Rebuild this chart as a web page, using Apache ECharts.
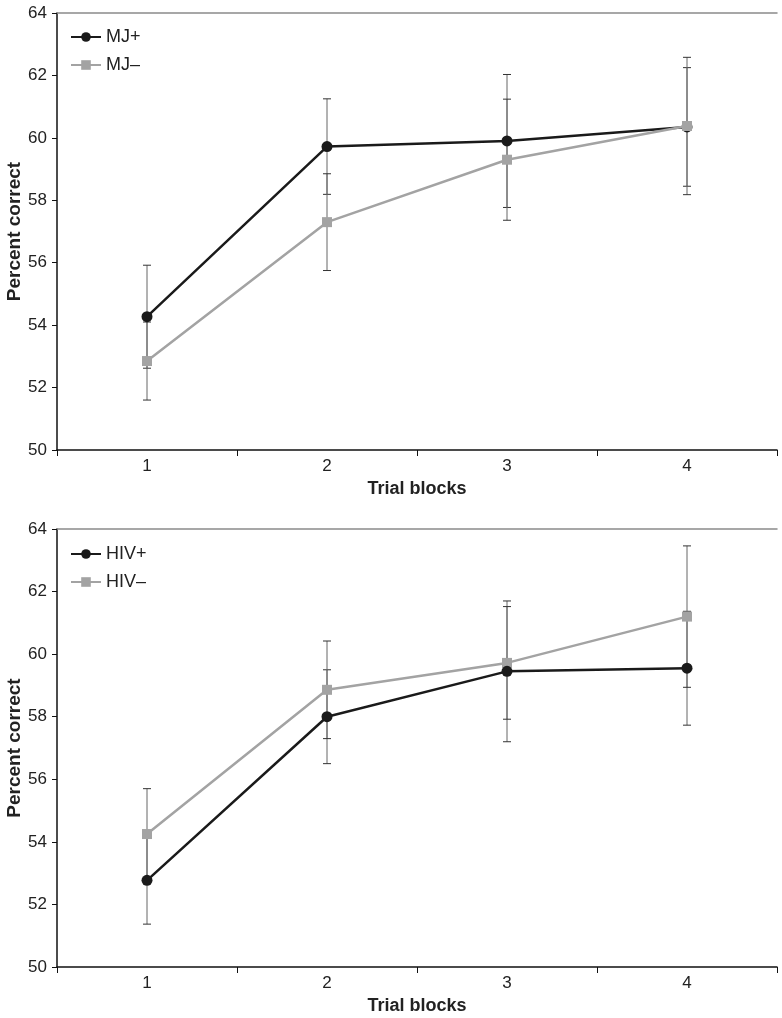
<!DOCTYPE html>
<html>
<head>
<meta charset="utf-8">
<script src="https://cdn.jsdelivr.net/npm/echarts@6/dist/echarts.min.js"></script>
<style>
html,body{margin:0;padding:0;background:#fff;}
#chart{width:782px;height:1018px;}
</style>
</head>
<body>
<div id="chart"></div>
<script>
const categories = ['1', '2', '3', '4'];
const yMin = 50, yMax = 64, yStep = 2;

const mjPlus = [54.27, 59.72, 59.9, 60.35];
const mjPlusErr = [1.65, 1.53, 2.13, 1.9];
const mjMinus = [52.85, 57.3, 59.3, 60.38];
const mjMinusErr = [1.25, 1.55, 1.94, 2.2];

const hivPlus = [52.77, 58.0, 59.45, 59.55];
const hivPlusErr = [1.4, 1.5, 2.25, 1.82];
const hivMinus = [54.25, 58.86, 59.72, 61.2];
const hivMinusErr = [1.45, 1.56, 1.8, 2.26];

const FONT = "'Liberation Sans', Arial, sans-serif";
const DARK = '#1a1a1a';
const GRAY = '#a3a3a3';

function errData(vals, errs) {
  return vals.map((v, i) => [i, v - errs[i], v + errs[i]]);
}

function errSeries(name, vals, errs, xi, yi) {
  return {
    type: 'custom',
    name: name + '_err',
    xAxisIndex: xi, yAxisIndex: yi,
    z: 1,
    silent: true,
    data: errData(vals, errs),
    renderItem: function (params, api) {
      const lo = api.coord([api.value(0), api.value(1)]);
      const hi = api.coord([api.value(0), api.value(2)]);
      const w = 4;
      const bar = { stroke: '#666', lineWidth: 1 };
      const cap = { stroke: '#333', lineWidth: 1 };
      return {
        type: 'group',
        children: [
          { type: 'line', shape: { x1: lo[0], y1: lo[1], x2: hi[0], y2: hi[1] }, style: bar },
          { type: 'line', shape: { x1: lo[0] - w, y1: lo[1], x2: lo[0] + w, y2: lo[1] }, style: cap },
          { type: 'line', shape: { x1: hi[0] - w, y1: hi[1], x2: hi[0] + w, y2: hi[1] }, style: cap }
        ]
      };
    }
  };
}

function lineSeries(name, vals, color, symbol, size, xi, yi, z) {
  return {
    type: 'line',
    name: name,
    xAxisIndex: xi, yAxisIndex: yi,
    data: vals,
    symbol: symbol,
    symbolSize: size,
    showSymbol: true,
    z: z,
    lineStyle: { color: color, width: 2.5 },
    itemStyle: { color: color, borderWidth: 0 },
    emphasis: { disabled: true },
    animation: false
  };
}

function xAxisBottom(gi) {
  return {
    type: 'category', gridIndex: gi, data: categories, position: 'bottom',
    boundaryGap: true,
    name: 'Trial blocks', nameLocation: 'middle', nameGap: 30,
    nameMoveOverlap: false,
    nameTextStyle: { fontFamily: FONT, fontSize: 18, fontWeight: 'bold', color: '#222' },
    axisLine: { show: true, lineStyle: { color: '#111', width: 1.5 } },
    axisTick: { show: true, alignWithLabel: false, length: 6, lineStyle: { color: '#111', width: 1 } },
    axisLabel: { fontFamily: FONT, fontSize: 17, color: '#222', margin: 8 },
    splitLine: { show: false }
  };
}
function xAxisTop(gi) {
  return {
    type: 'category', gridIndex: gi, data: categories, position: 'top',
    axisLine: { show: true, lineStyle: { color: '#8a8a8a', width: 1.5 } },
    axisTick: { show: false }, axisLabel: { show: false }, splitLine: { show: false }
  };
}
function yAxis(gi) {
  return {
    type: 'value', gridIndex: gi, min: yMin, max: yMax, interval: yStep,
    name: 'Percent correct', nameLocation: 'middle', nameGap: 33,
    nameMoveOverlap: false,
    nameTextStyle: { fontFamily: FONT, fontSize: 19, fontWeight: 'bold', color: '#222' },
    axisLine: { show: true, lineStyle: { color: '#111', width: 1.5 } },
    axisTick: { show: true, length: 5, lineStyle: { color: '#111', width: 1 } },
    axisLabel: { fontFamily: FONT, fontSize: 17, color: '#222', margin: 10 },
    splitLine: { show: false }
  };
}

function legend(items, top) {
  return {
    data: items.map(n => ({ name: n })),
    left: 65, top: top, orient: 'vertical', itemGap: 10,
    itemWidth: 30, itemHeight: 12,
    textStyle: { fontFamily: FONT, fontSize: 18, color: '#222' },
    selectedMode: false
  };
}

const chart = echarts.init(document.getElementById('chart'), null, { renderer: 'canvas' });
chart.setOption({
  animation: false,
  backgroundColor: '#fff',
  grid: [
    { left: 57, top: 13, width: 720, height: 437, outerBoundsMode: 'none', containLabel: false },
    { left: 57, top: 529, width: 720, height: 438, outerBoundsMode: 'none', containLabel: false }
  ],
  xAxis: [xAxisBottom(0), xAxisTop(0), xAxisBottom(1), xAxisTop(1)],
  yAxis: [yAxis(0), yAxis(1)],
  legend: [legend(['MJ+', 'MJ–'], 23), legend(['HIV+', 'HIV–'], 540)],
  series: [
    errSeries('MJ+', mjPlus, mjPlusErr, 0, 0),
    errSeries('MJ–', mjMinus, mjMinusErr, 0, 0),
    lineSeries('MJ+', mjPlus, DARK, 'circle', 11, 0, 0, 3),
    lineSeries('MJ–', mjMinus, GRAY, 'rect', 10, 0, 0, 4),
    errSeries('HIV+', hivPlus, hivPlusErr, 2, 1),
    errSeries('HIV–', hivMinus, hivMinusErr, 2, 1),
    lineSeries('HIV–', hivMinus, GRAY, 'rect', 10, 2, 1, 3),
    lineSeries('HIV+', hivPlus, DARK, 'circle', 11, 2, 1, 4)
  ]
});
</script>
</body>
</html>
